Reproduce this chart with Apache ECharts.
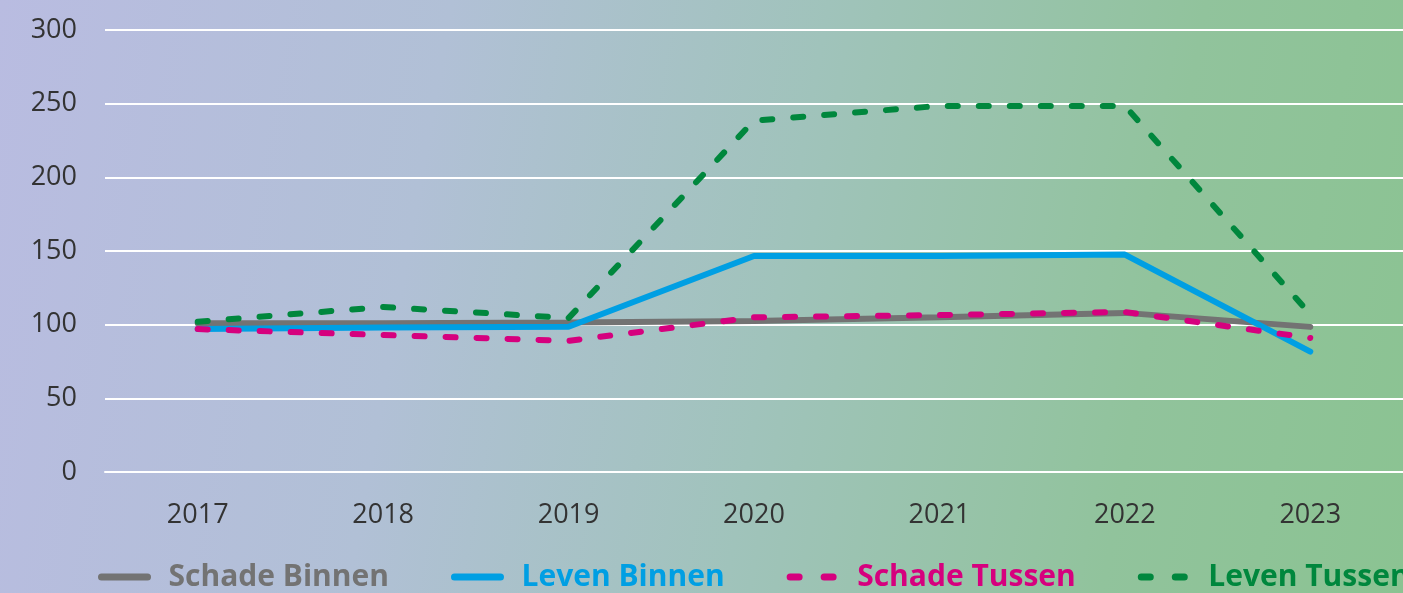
<!DOCTYPE html>
<html lang="nl">
<head>
	<meta charset="UTF-8">
	<title>Binnen en Tussen</title>
	<script src="https://cdn.jsdelivr.net/npm/echarts@6/dist/echarts.min.js"></script>
	<style>
		html,body{margin:0;padding:0;}
		#app{width:1403px;height:593px;background:linear-gradient(100deg,#b9bce1 0%,#b1c0d6 30%,#a0c3bb 55%,#91c39c 80%,#8bc392 100%);}
	</style>
</head>
<body>
	<div id="app"></div>

	<script>
		var years=["2017","2018","2019","2020","2021","2022","2023"];
		var yTicks=[0,50,100,150,200,250,300];
		var schadeBinnen=[101,101,101.5,102.5,105,108,98.5];
		var levenBinnen=[97,98,98.6,146.6,146.6,147.6,81.7];
		var schadeTussen=[97,93,89,105,106.5,108.6,91];
		var levenTussen=[102,112,104.5,238.5,248.5,248.5,107];

		var dash=[10,21];
		function mkLine(name,data,color,dashed){
			return {
				name:name,
				type:"line",
				data:data,
				symbol:"none",
				smooth:false,
				lineStyle:{color:color,width:6,type:dashed?dash:"solid",cap:"round"},
				itemStyle:{color:color}
			};
		}

		var legendDash=[9,25];
		var myChart=echarts.init(document.getElementById('app'));
		var option={
			animation:false,
			grid:{left:105,right:0,top:30,bottom:121},
			legend:{
				left:93,
				top:557,
				width:1700,//laatste item mag buiten beeld lopen
				itemWidth:46,
				itemHeight:8,
				itemGap:62,
				itemStyle:{opacity:0},//geen bolletje in de legenda
				lineStyle:{width:7,cap:"round"},
				textStyle:{fontFamily:"Open Sans",fontWeight:"bold",fontSize:30,padding:[0,0,0,16]},
				data:[
					{name:"Schade Binnen",textStyle:{color:"#737373"}},
					{name:"Leven Binnen",textStyle:{color:"#009fe3"}},
					{name:"Schade Tussen",textStyle:{color:"#d6007e"},lineStyle:{type:legendDash}},
					{name:"Leven Tussen",textStyle:{color:"#00873d"},lineStyle:{type:legendDash}}
				]
			},
			xAxis:{
				type:"category",
				data:years,
				boundaryGap:true,
				axisLine:{show:true,lineStyle:{color:"#ffffff",width:2}},
				axisTick:{show:false},
				axisLabel:{color:"#333333",fontFamily:"Open Sans",fontSize:27,margin:30}
			},
			yAxis:{
				type:"value",
				min:yTicks[0],
				max:yTicks[yTicks.length-1],
				interval:50,
				axisLine:{show:false},
				axisTick:{show:false},
				splitLine:{lineStyle:{color:"#ffffff",width:2}},
				axisLabel:{color:"#333333",fontFamily:"Open Sans",fontSize:27,margin:28}
			},
			series:[
				mkLine("Schade Binnen",schadeBinnen,"#737373",false),
				mkLine("Leven Binnen",levenBinnen,"#009fe3",false),
				mkLine("Schade Tussen",schadeTussen,"#d6007e",true),
				mkLine("Leven Tussen",levenTussen,"#00873d",true)
			]
		};
		myChart.setOption(option);
	</script>
</body>
</html>
